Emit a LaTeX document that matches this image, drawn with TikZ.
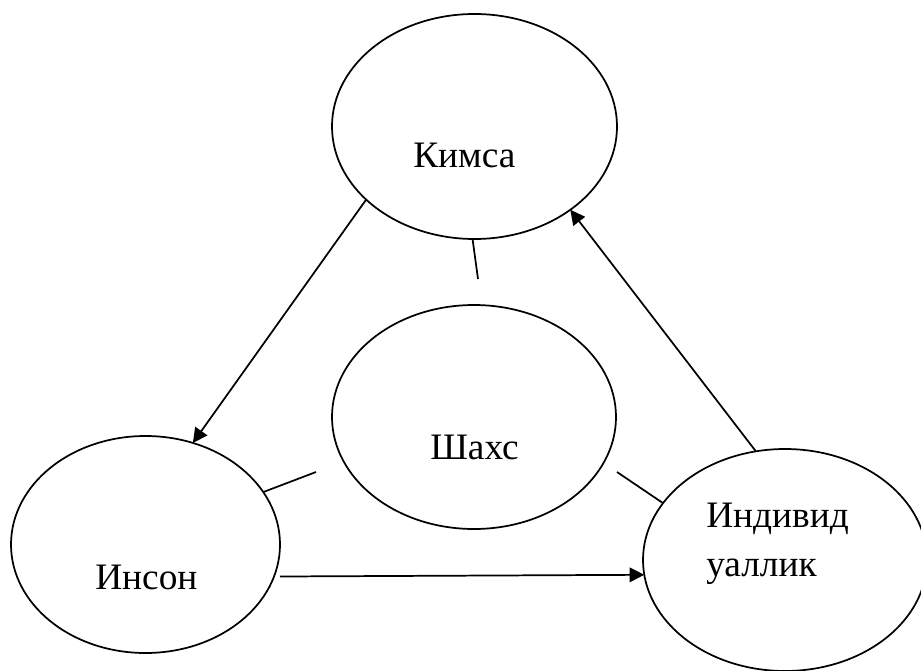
\documentclass[tikz,border=0pt]{standalone}
\usepackage{fontspec}
\setmainfont{Liberation Serif}
\usetikzlibrary{shapes.geometric,arrows.meta}
\begin{document}
\begin{tikzpicture}[x=0.75pt,y=-0.75pt,
  blob/.style={draw,ellipse,line width=1.3pt,inner sep=0pt,outer sep=0pt},
  lbl/.style={anchor=base west,inner sep=0pt,font=\fontsize{28}{36.75}\selectfont,align=left},
  conn/.style={line width=1.3pt},
  arr/.style={conn,-{Triangle[length=11pt,width=11pt]}}]
\useasboundingbox (0,0) rectangle (921,671);
\node[blob,minimum width=213.75pt,minimum height=168.75pt] (kimsa) at (474.5,126.5) {};
\node[blob,minimum width=213pt,minimum height=168pt] (shaxs) at (474,417) {};
\node[blob,minimum width=201.75pt,minimum height=162.75pt] (inson) at (145.5,544.5) {};
\node[blob,minimum width=213pt,minimum height=166.5pt] (indiv) at (785,560) {};
\node[lbl] (tk) at (413,167) {Кимса};
\node[lbl] (ts) at (430,459) {Шахс};
\node[lbl] (ti) at (95,589) {Инсон};
\node[lbl] (tv) at (706,576) {Индивид\\уаллик};
\draw[arr] (kimsa.214.8) -- (inson.65.4);
\draw[arr] (indiv.105.1) -- (kimsa.319);
\draw[arr,shorten <=4.5pt] (inson.346.25) -- (indiv.186.5);
\coordinate (e1) at (478,279);
\coordinate (e2) at (316,472);
\coordinate (e3) at (617,472);
\draw[conn] (kimsa.269) -- (e1);
\draw[conn] (inson.24) -- (e2);
\draw[conn] (indiv.155.8) -- (e3);
\end{tikzpicture}
\end{document}
